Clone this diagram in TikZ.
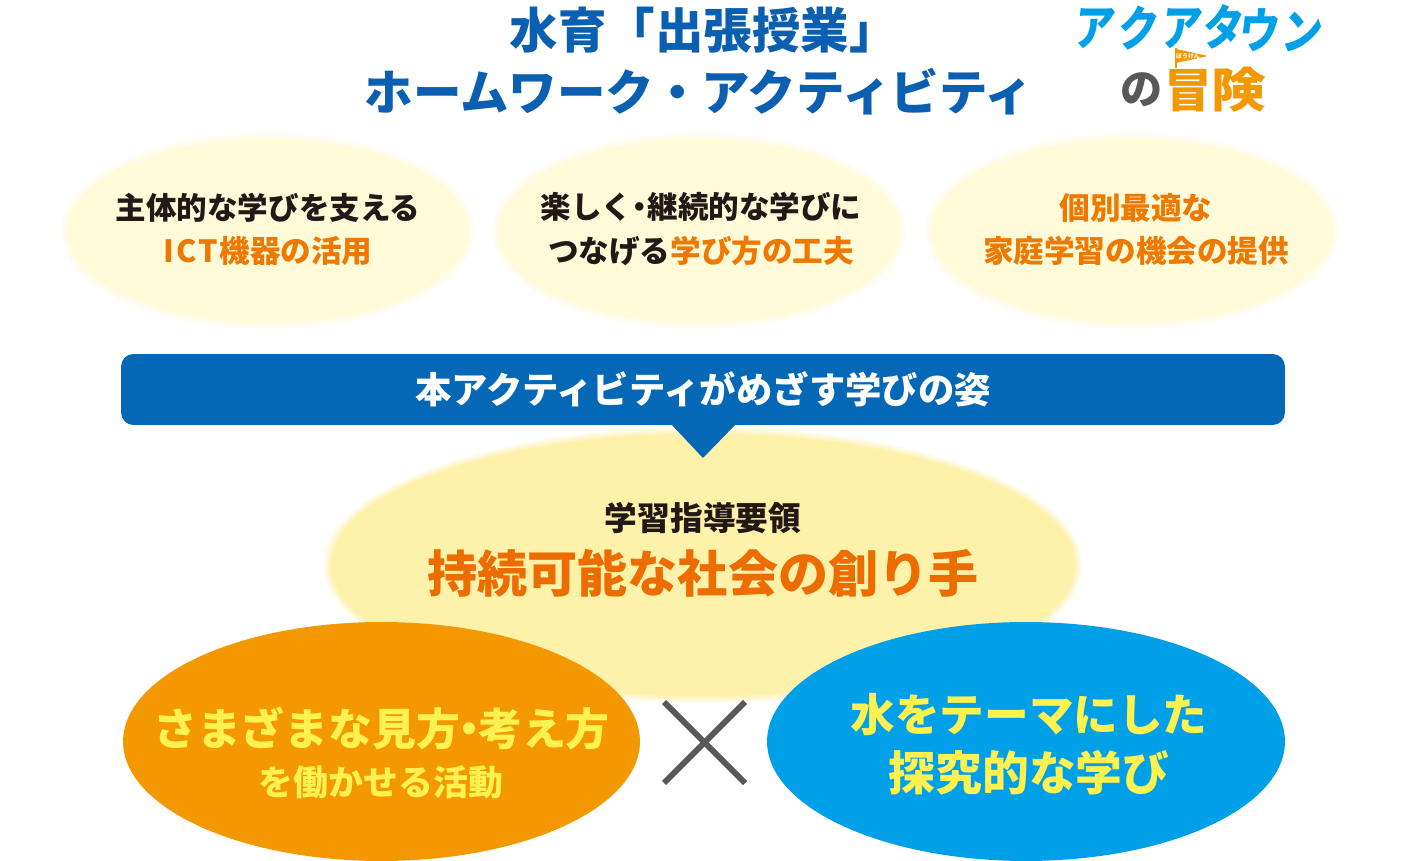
\documentclass[tikz,border=0pt]{standalone}
\usepackage{fontspec}
\setmainfont{Noto Sans CJK JP}
\usetikzlibrary{shapes.geometric, positioning}
\definecolor{aquablue}{RGB}{10, 95, 176}
\definecolor{bannerblue}{RGB}{4, 104, 183}
\definecolor{skyblue}{RGB}{0, 160, 233}
\definecolor{deeporange}{RGB}{238, 120, 0}
\definecolor{burntorange}{RGB}{236, 108, 0}
\definecolor{amber}{RGB}{243, 152, 0}
\definecolor{paleoval}{RGB}{255, 250, 216}
\definecolor{creamoval}{RGB}{254, 241, 170}
\definecolor{lemon}{RGB}{255, 241, 80}
\definecolor{inkblack}{RGB}{35, 24, 21}
\definecolor{crossgray}{RGB}{89, 87, 87}
\newcommand{\jpsize}[2]{\bfseries\fontsize{#1}{#2}\selectfont}
\tikzset{
  softoval/.style={ellipse, inner sep=0pt, minimum width=#1},
  introtext/.style={align=center, text=inkblack, font=\jpsize{17.4}{24.5}},
  logoletter/.style={text=skyblue, font=\jpsize{25}{25}, xslant=0.12, yscale=1.1, xscale=0.92, transform shape, inner sep=0pt},
  logokanji/.style={text=amber, font=\jpsize{27}{27}, inner sep=0pt}
}

\begin{document}
\begin{tikzpicture}[x=0.02cm, y=-0.02cm]
  \useasboundingbox (0,0) rectangle (1401,861);

  % title
  \node[align=center, text=aquablue, font=\jpsize{27.6}{35.3}] (title) at (699,61)
    {水育「出張授業」{\kern-0.2em}\\ホームワーク・アクティビティ};

  % logo
  \foreach \ch/\px/\py in {ア/1095/29, ク/1139/28, ア/1182/29, タ/1224/27, ウ/1260/30, ン/1303/32}
    \node[logoletter] (logo\px) at (\px,\py) {\ch};
  \node[text=crossgray, font=\jpsize{24}{24}, inner sep=0pt] (logono) at (1142,90) {の};
  \node[logokanji] (logobou) at (1188,91) {冒};
  \node[logokanji, xscale=1.15, transform shape] (logoken) at (1239,90) {険};
  \fill[amber] (1176,49) -- (1208,56) -- (1176,63) -- cycle;
  \draw[amber, line width=0.6pt] (1176,48) -- (1176,68);
  \node[text=white, font=\jpsize{3.4}{4}, inner sep=0pt] (logoflag) at (1188,56) {ぼうけん};

  % upper ovals
  \foreach \cx/\nm in {268/ovalone, 699/ovaltwo, 1132/ovalthree} {
    \foreach \st in {10,20,...,90} {
      \fill[paleoval!\st!white] (\cx,231) ellipse ({209-\st/10} and {100-\st/10});
    }
    \node[softoval=8cm, minimum height=3.64cm, fill=paleoval] (\nm) at (\cx,231) {};
  }
  \node[introtext] (textone) at (268,229) {主体的な学びを支える\\\textcolor{deeporange}{I\kern0.06em C\kern0.06em T\kern0.06em 機器の活用}};
  \node[introtext] (texttwo) at (701,229) {楽しく{\kern-0.25em}・{\kern-0.25em}継続的な学びに\\つなげる\textcolor{deeporange}{学び方の工夫}};
  \node[introtext, text=deeporange] (textthree) at (1136,229) {個別最適な\\家庭学習の機会の提供};

  % central oval
  \foreach \st in {10,20,...,90} {
    \fill[creamoval!\st!white] (703,565) ellipse ({381-\st/10} and {140-\st/10});
  }
  \node[softoval=14.88cm, minimum height=5.24cm, fill=creamoval] (goaloval) at (703,565) {};

  % banner
  \node[fill=bannerblue, rounded corners=7pt, minimum width=23.28cm, minimum height=1.42cm, inner sep=0pt,
    text=white, font=\jpsize{20.7}{24}] (banner) at (703,389.5) {本アクティビティがめざす学びの姿};
  \fill[bannerblue] (671,424) -- (736,424) -- (703,458) -- cycle;

  \node[text=inkblack, font=\jpsize{18.6}{24}] (guide) at (703,518) {学習指導要領};
  \node[text=burntorange, font=\jpsize{28.5}{32}] (goal) at (703,573) {持続可能な社会の創り手};

  % bottom ovals
  \node[softoval=10.34cm, minimum height=4.78cm, fill=amber] (viewoval) at (381.5,741.5) {};
  \node[softoval=10.36cm, minimum height=4.78cm, fill=skyblue] (wateroval) at (1026,741.5) {};
  \node[text=lemon, font=\jpsize{25}{30}] (viewtop) at (381.5,729) {さまざまな見方{\kern-0.3em}・{\kern-0.3em}考え方};
  \node[text=lemon, font=\jpsize{19.9}{24}] (viewsub) at (381,782) {を働かせる活動};
  \node[text=lemon, font=\jpsize{25.4}{30}] (watertop) at (1029,715) {水をテーマにした};
  \node[text=lemon, font=\jpsize{26.6}{30}] (waterbot) at (1029,773) {探究的な学び};

  % cross
  \coordinate (crossa) at (664,702);
  \coordinate (crossb) at (745,783);
  \coordinate (crossc) at (745,702);
  \coordinate (crossd) at (664,783);
  \draw[crossgray, line width=3.4pt] (crossa) -- (crossb);
  \draw[crossgray, line width=3.4pt] (crossc) -- (crossd);
\end{tikzpicture}
\end{document}
